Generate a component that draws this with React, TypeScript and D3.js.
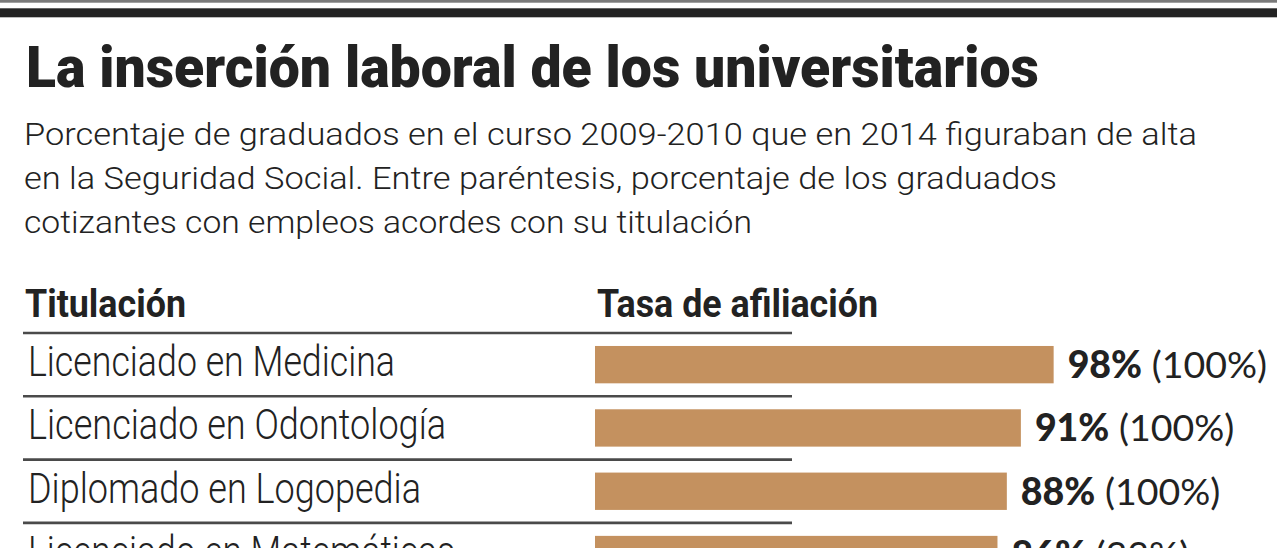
import React, { useEffect } from "react";
import * as d3 from "d3";

const categories = [
  "Licenciado en Medicina",
  "Licenciado en Odontología",
  "Diplomado en Logopedia",
  "Licenciado en Matemáticas",
];
const rates = [98, 91, 88, 86];
const matching = [100, 100, 100, 33];
const labelWidths = [367, 418, 393, 427];

const title = "La inserción laboral de los universitarios";
const subtitleLines = [
  "Porcentaje de graduados en el curso 2009-2010 que en 2014 figuraban de alta",
  "en la Seguridad Social. Entre paréntesis, porcentaje de los graduados",
  "cotizantes con empleos acordes con su titulación",
];
const subtitleWidths = [1173, 1033, 728];
const headers = ["Titulación", "Tasa de afiliación"];

const W = 1280;
const H = 548;
const TEXT = "#222222";
const BAR = "#C4915F";
const CONDENSED = "Roboto, 'Noto Sans', sans-serif";
const VALUEFONT = "Lato, 'Open Sans', sans-serif";

export default function App() {
  useEffect(() => {
    document.body.style.margin = "0";
  }, []);

  const x = d3.scaleLinear().domain([0, 100]).range([595, 1063]);
  const y = d3
    .scaleBand<string>()
    .domain(categories)
    .range([333, 333 + 63.3 * categories.length])
    .padding(0);
  const bw = y.bandwidth();

  return (
    <svg width={W} height={H} style={{ display: "block", background: "#fff" }}>
      {/* top rules */}
      <rect x={0} y={0} width={1277} height={2.7} fill="#7a7a7a" />
      <rect x={0} y={8.3} width={1277} height={9} fill="#232323" />

      <text
        x={26}
        y={87}
        fontFamily={CONDENSED}
        fontWeight={900}
        fontSize={57}
        fill={TEXT}
        textLength={1013}
        lengthAdjust="spacingAndGlyphs"
      >
        {title}
      </text>

      {subtitleLines.map((line, i) => (
        <text
          key={i}
          x={24}
          y={145 + i * 44}
          fontFamily={CONDENSED}
          fontWeight={300}
          fontSize={31}
          fill={TEXT}
          textLength={subtitleWidths[i]}
          lengthAdjust="spacingAndGlyphs"
        >
          {line}
        </text>
      ))}

      <text
        x={25}
        y={316.5}
        fontFamily={CONDENSED}
        fontWeight={700}
        fontSize={38}
        fill={TEXT}
        textLength={161}
        lengthAdjust="spacingAndGlyphs"
      >
        {headers[0]}
      </text>
      <text
        x={597}
        y={316.5}
        fontFamily={CONDENSED}
        fontWeight={700}
        fontSize={38}
        fill={TEXT}
        textLength={281}
        lengthAdjust="spacingAndGlyphs"
      >
        {headers[1]}
      </text>

      {categories.map((c, i) => {
        const top = y(c) as number;
        return (
          <g key={c}>
            <line x1={23} x2={792} y1={top} y2={top} stroke="#4a4a4a" strokeWidth={2.6} />
            <rect
              x={x(0)}
              y={top + bw * 0.205}
              width={x(rates[i]) - x(0)}
              height={bw * 0.59}
              fill={BAR}
            />
            <text
              x={28}
              y={top + 43}
              fontFamily={CONDENSED}
              fontWeight={300}
              fontSize={42}
              fill={TEXT}
              textLength={labelWidths[i]}
              lengthAdjust="spacingAndGlyphs"
            >
              {c}
            </text>
            <text
              x={x(rates[i]) + 14}
              y={top + 45}
              fontFamily={VALUEFONT}
              fontSize={37.5}
              fill={TEXT}
            >
              <tspan fontWeight={900}>{`${rates[i]}%`}</tspan>
              <tspan fontWeight={400}>{` (${matching[i]}%)`}</tspan>
            </text>
          </g>
        );
      })}
    </svg>
  );
}
